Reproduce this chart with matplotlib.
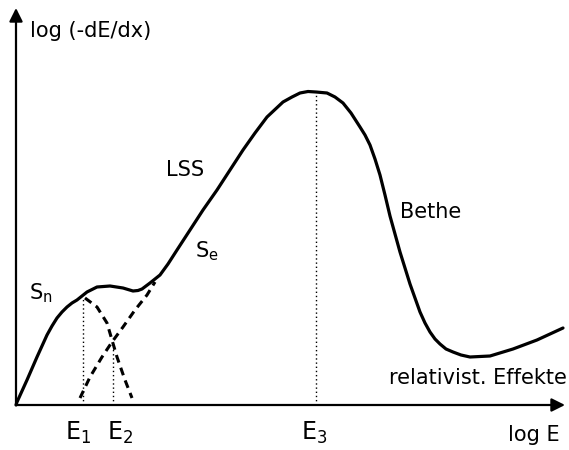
import matplotlib.pyplot as plt

plt.rcParams['font.family'] = ['DejaVu Sans']

# total stopping power (log E, log -dE/dx), arbitrary units
logE = [0.00, 0.01, 0.11, 0.21, 0.31, 0.36, 0.41, 0.46, 0.51, 0.56, 0.61, 0.66,
        0.71, 0.81, 0.94, 1.07, 1.17, 1.22, 1.26, 1.30, 1.34, 1.44, 1.52, 1.61,
        1.74, 1.87, 2.01, 2.14, 2.27, 2.39, 2.51, 2.67, 2.76, 2.84, 2.92, 3.00,
        3.11, 3.19, 3.27, 3.35, 3.44, 3.49, 3.54, 3.59, 3.64, 3.69, 3.74, 3.84,
        3.94, 4.04, 4.09, 4.14, 4.19, 4.24, 4.30, 4.37, 4.45, 4.54, 4.74, 4.97,
        5.21, 5.47]
stopping = [0.00, 0.03, 0.25, 0.48, 0.70, 0.79, 0.87, 0.93, 0.98, 1.02, 1.05, 1.09,
            1.13, 1.18, 1.19, 1.17, 1.14, 1.145, 1.16, 1.19, 1.22, 1.30, 1.41, 1.55,
            1.75, 1.95, 2.15, 2.35, 2.55, 2.72, 2.88, 3.03, 3.08, 3.12, 3.135, 3.13,
            3.12, 3.08, 3.02, 2.92, 2.78, 2.70, 2.60, 2.46, 2.30, 2.10, 1.89, 1.53,
            1.21, 0.93, 0.82, 0.73, 0.66, 0.61, 0.56, 0.53, 0.50, 0.48, 0.49, 0.56,
            0.65, 0.77]

# nuclear part beyond its maximum
sn_E = [0.69, 0.81, 0.91, 0.96, 1.01, 1.09, 1.16]
sn_val = [1.07, 0.98, 0.82, 0.65, 0.48, 0.25, 0.07]

# electronic part at low energy
se_E = [0.64, 0.74, 0.86, 0.96, 1.07, 1.19, 1.31, 1.39]
se_val = [0.07, 0.28, 0.48, 0.63, 0.78, 0.95, 1.10, 1.23]

# characteristic energies and the heights of their markers
E_marks = [0.67, 0.97, 3.00]
E_tops = [1.07, 0.58, 3.13]
E_labels = ['E$_\\mathregular{1}$', 'E$_\\mathregular{2}$', 'E$_\\mathregular{3}$']
E_label_x = [0.62, 1.04, 2.98]

W, H = 569, 450
fig = plt.figure(figsize=(W / 100, H / 100), dpi=100)
ax = fig.add_axes([16 / W, 45 / H, 549 / W, 397 / H])
ax.set_xlim(0, 5.49)
ax.set_ylim(0, 3.97)
ax.axis('off')

# axes with arrow heads
arrow = dict(arrowstyle='-|>', mutation_scale=20, lw=1.6, color='k',
             shrinkA=0, shrinkB=0)
ax.annotate('', xy=(5.49, 0), xytext=(0, 0), arrowprops=arrow, annotation_clip=False)
ax.annotate('', xy=(0, 3.97), xytext=(0, 0), arrowprops=arrow, annotation_clip=False)

ax.plot(logE, stopping, color='k', lw=2.3, solid_joinstyle='round',
        solid_capstyle='round', clip_on=False)
ax.plot(sn_E, sn_val, color='k', lw=2.2, ls=(0, (2.6, 1.8)), clip_on=False)
ax.plot(se_E, se_val, color='k', lw=2.2, ls=(0, (2.6, 1.8)), clip_on=False)

for e, top in zip(E_marks, E_tops):
    ax.plot([e, e], [0, top], color='k', lw=1.0, ls=(0, (1, 2)), clip_on=False)

fs = 15
for lx, lab in zip(E_label_x, E_labels):
    ax.text(lx, -0.28, lab, fontsize=17, ha='center', va='center')

ax.text(0.14, 3.68, 'log (-dE/dx)', fontsize=fs, ha='left', va='baseline')
ax.text(5.44, -0.30, 'log E', fontsize=fs, ha='right', va='center')
ax.text(0.25, 1.12, 'S$_\\mathregular{n}$', fontsize=fs, ha='center', va='center')
ax.text(1.69, 2.35, 'LSS', fontsize=fs, ha='center', va='center')
ax.text(1.91, 1.54, 'S$_\\mathregular{e}$', fontsize=fs, ha='center', va='center')
ax.text(4.15, 1.93, 'Bethe', fontsize=fs, ha='center', va='center')
ax.text(5.51, 0.27, 'relativist. Effekte', fontsize=fs, ha='right', va='center')

fig.savefig('out.png', dpi=100)
